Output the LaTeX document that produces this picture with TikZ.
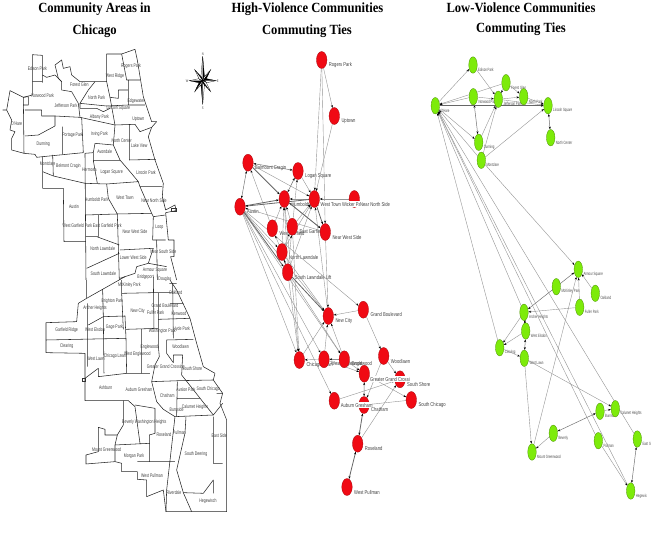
\documentclass[tikz,border=0pt]{standalone}
\usepackage{fontspec}
\setmainfont{Liberation Sans}
\newfontfamily\ttlf[FakeStretch=0.9]{Liberation Serif}
\newfontfamily\mapf[FakeStretch=0.68]{Liberation Sans}
\newfontfamily\redf[FakeStretch=0.74]{Liberation Sans}
\newfontfamily\grnf[FakeStretch=0.62]{Liberation Sans}
\usetikzlibrary{shapes.geometric,arrows.meta}
\pgfdeclarelayer{bg}
\pgfsetlayers{bg,main}
\definecolor{redv}{RGB}{240,10,20}
\definecolor{grnv}{RGB}{125,235,10}
\tikzset{
  ttl/.style={font=\ttlf\bfseries\fontsize{14}{16}\selectfont,inner sep=0pt,text=black},
  mapline/.style={draw=black!85,line width=.55pt,line join=round},
  ml/.style={font=\mapf\fontsize{5.2}{6}\selectfont,inner sep=0pt,text=black!75},
  rednode/.style={ellipse,fill=redv,draw=redv!70!black,line width=.3pt,minimum width=10.5pt,minimum height=17pt,inner sep=0pt},
  grnnode/.style={ellipse,fill=grnv,draw=grnv!60!black,line width=.3pt,minimum width=8.5pt,minimum height=16.5pt,inner sep=0pt},
  rl/.style={font=\redf\fontsize{5.6}{6}\selectfont,inner sep=0pt,anchor=west,text=black!75,xshift=2pt,yshift=-1pt},
  gl/.style={font=\grnf\fontsize{4.6}{5}\selectfont,inner sep=0pt,anchor=west,text=black!70,yshift=-1pt},
  rltop/.style={font=\redf\fontsize{5.6}{6}\selectfont,inner sep=0pt,anchor=west,text=black!75,fill=white,inner ysep=.8pt},
  rlfree/.style={font=\redf\fontsize{5.6}{6}\selectfont,inner sep=0pt,anchor=west,text=black!75},
  edge/.style={draw=black!42,line width=.4pt,-{Stealth[length=2.8pt,width=2pt,black]}},
  both/.style={draw=black!55,line width=.5pt,{Stealth[length=2.8pt,width=2pt,black]}-{Stealth[length=2.8pt,width=2pt,black]}},
  heavy/.style={draw=black!60,line width=.8pt,-{Stealth[length=2.8pt,width=2pt,black]}},
  heavyboth/.style={draw=black!60,line width=.8pt,{Stealth[length=2.8pt,width=2pt,black]}-{Stealth[length=2.8pt,width=2pt,black]}},
  plain/.style={draw=black!45,line width=.4pt},
}
\newcommand{\vx}[6]{% name x y style labelstyle text
  \node[#4] (#1) at (#2,#3) {};
  \begin{pgfonlayer}{bg}\node[#5] (#1-lab) at (#2+5,#3+4) {#6};\end{pgfonlayer}}
\begin{document}
\begin{tikzpicture}[x=1pt,y=-1pt]
\useasboundingbox (0,0) rectangle (651,535);
% titles
\node[ttl] (t1a) at (94.5,9) {Community Areas in};
\node[ttl] (t1b) at (94.7,31.5) {Chicago};
\node[ttl] (t2a) at (307.5,9) {High-Violence Communities};
\node[ttl] (t2b) at (307,31.5) {Commuting Ties};
\node[ttl] (t3a) at (521,8) {Low-Violence Communities};
\node[ttl] (t3b) at (521,29) {Commuting Ties};

% ------ map, upper part
\begin{scope}[shift={(0pt,-40pt)},x=0.3333pt,y=-0.3333pt]
\draw[mapline] (97,44)--(127,46)--(127,128) (97,44)--(97,165)--(70,172)--(30,152)--(20,210)--(35,240)--(30,270)--(45,275)--(35,295)--(35,330)--(72,340)--(105,343)--(110,352)--(128,350)--(250,338);
\draw[mapline] (8,210)--(20,210) (97,125)--(127,125) (127,105)--(140,112)--(165,105)--(185,125)--(185,150)--(215,155)--(235,190)--(240,232);
\draw[mapline] (70,172)--(72,340) (70,172)--(85,170)--(85,195)--(70,195) (75,210)--(125,210)--(125,228)--(165,228)--(240,232)--(345,255)--(405,253)--(420,275)--(455,262);
\draw[mapline] (75,288)--(115,285)--(165,258) (165,228)--(165,258) (187,260)--(187,342);
\draw[mapline] (320,42)--(365,42)--(405,28)--(412,60)--(430,170)--(440,200)--(455,245)--(470,245)--(455,262)--(445,290)--(465,360)--(490,430)--(487,470)--(497,510)--(525,495)--(528,512)--(497,518)--(505,600)--(522,600)--(522,650)--(512,650)--(530,720);
\draw[mapline] (320,42)--(320,125)--(285,125)--(240,125)--(215,105)--(210,80)--(190,85)--(185,60)--(165,75)--(175,115)--(185,125);
\draw[mapline] (365,42)--(380,120)--(420,120) (385,120)--(385,195)--(435,195) (385,150)--(355,150)--(355,175)--(330,172)--(320,125);
\draw[mapline] (285,125)--(265,150)--(240,190)--(240,205)--(290,205)--(310,215)--(330,205) (240,190)--(320,198)--(385,195) (330,172)--(345,255)--(340,315)--(360,360)--(390,395)--(415,425)--(320,432)--(325,475)--(352,522);
\draw[mapline] (388,255)--(388,360)--(468,358) (285,310)--(340,315) (285,310)--(280,338)--(255,340) (280,362)--(360,362) (280,338)--(280,362)--(292,430);
\draw[mapline] (245,232)--(250,338) (255,340)--(258,720) (128,350)--(128,445)--(190,445)--(192,605)--(258,605) (128,395)--(160,408)--(255,430)--(320,432) (158,345)--(160,408);
\draw[mapline] (258,525)--(352,522)--(455,520)--(420,440)--(487,440) (415,425)--(420,440) (455,520)--(460,530)--(458,600)--(497,600) (295,525)--(295,590)--(258,590)--(290,590)--(358,615) (352,522)--(358,720) (360,630)--(460,625) (260,685)--(358,640);
\draw[mapline] (460,625)--(445,670)--(410,680)--(405,700)--(360,715) (470,600)--(472,720) (445,670)--(500,680) (460,530)--(497,525);
\node[draw=black!80,line width=.4pt,minimum width=5pt,minimum height=3pt,inner sep=0pt] (mark1) at (520,508) {};
\foreach \x/\y/\t [count=\i] in {112/86/Edison Park,128/168/Norwood Park,238/135/Forest Glen,393/78/Rogers Park,345/108/West Ridge,290/173/North Park,408/182/Edgewater,198/198/Jefferson Park,355/203/Lincoln Square,298/230/Albany Park,415/238/Uptown,50/252/O'Hare,218/285/Portage Park,298/283/Irving Park,365/303/North Center,418/317/Lake View,130/311/Dunning,314/336/Avondale,143/372/Montclare,205/380/Belmont Cragin,268/390/Hermosa,335/396/Logan Square,438/399/Lincoln Park,290/480/Humboldt Park,375/474/West Town,462/481/Near North Side,222/500/Austin,232/557/West Garfield Park,322/556/East Garfield Park,405/574/Near West Side,478/561/Loop,308/625/North Lawndale,400/653/Lower West Side,490/636/Near South Side,310/702/South Lawndale,465/690/Armour Square,437/713/Bridgeport}
  \node[ml] (ma\i) at (\x,\y) {\t};
\end{scope}
% ------ map, lower part
\begin{scope}[shift={(0pt,-270pt)},x=0.3333pt,y=-0.3333pt]
\draw[mapline] (260,30)--(260,85)--(235,100)--(230,155)--(138,158)--(138,248)--(255,250)--(255,392)--(385,392);
\draw[mapline] (260,85)--(375,20) (365,30)--(365,70)--(460,68)--(515,68) (308,60)--(310,140) (265,165)--(310,140)--(375,138)--(378,205) (138,210)--(378,205) (262,100)--(262,290) (310,140)--(312,310) (378,205)--(380,310) (425,178)--(425,310) (378,178)--(475,175) (365,70)--(370,178) (460,20)--(462,175) (475,68)--(475,230) (518,40)--(520,205) (475,148)--(570,145) (508,40)--(530,40) (510,100)--(550,100);
\draw[mapline] (510,30)--(530,60)--(570,145)--(590,220)--(610,290)--(645,310)--(640,330)--(668,370)--(660,400)--(680,450)--(680,725)--(498,725)--(490,660)--(440,680)--(440,630)--(412,628)--(412,605)--(365,605)--(365,580)--(345,575)--(258,582)--(258,555)--(295,545)--(295,472)--(315,478)--(315,495)--(352,495)--(370,465)--(370,392);
\draw[mapline] (500,210)--(580,208) (500,210)--(500,250)--(520,278)--(520,255)--(548,255)--(545,315) (475,228)--(478,260)--(465,285)--(455,335)--(540,332)--(640,330) (450,310)--(380,310)--(295,320)--(295,295)--(255,325) (455,335)--(470,395)--(490,418)--(525,440)--(640,435);
\draw[mapline] (545,315)--(640,435)--(668,400) (385,392)--(405,410)--(420,520) (405,405)--(465,415)--(465,490)--(448,495)--(448,575) (532,385)--(600,385) (532,335)--(530,440) (525,440)--(500,660)--(498,725) (558,440)--(555,490)--(530,600)--(550,668)--(610,670)--(640,630)--(640,670) (640,440)--(640,580)--(668,580) (550,668)--(575,725) (345,525)--(450,520) (345,575)--(345,525)--(352,495) (412,575)--(525,575) (650,370)--(668,370);
\node[draw=black!80,line width=.4pt,minimum width=3pt,minimum height=3pt,inner sep=0pt] (mark2) at (250,329) {};
\foreach \x/\y/\t [count=\i] in {495/28/Douglas,388/45/McKinley Park,527/68/Oakland,337/92/Brighton Park,285/115/Archer Heights,495/108/Grand Boulevard,467/128/Fuller Park,537/130/Kenwood,413/124/New City,200/181/Garfield Ridge,285/180/West Elsdon,343/172/Gage Park,487/183/Washington Park,545/176/Hyde Park,200/229/Clearing,448/232/Englewood,542/229/Woodlawn,412/252/West Englewood,345/258/Chicago Lawn,288/266/West Lawn,497/290/Greater Grand Crossing,577/295/South Shore,317/352/Ashburn,417/360/Auburn Gresham,558/358/Avalon Park,625/356/South Chicago,502/376/Chatham,530/418/Burnside,585/412/Calumet Heights,433/456/Beverly Washington Heights,492/495/Roseland,538/489/Pullman,658/496/East Side,320/539/Mount Greenwood,402/558/Morgan Park,588/552/South Deering,456/618/West Pullman,522/667/Riverdale,624/693/Hegewisch}
  \node[ml] (mb\i) at (\x,\y) {\t};
\end{scope}

% ------ compass
\begin{scope}[shift={(202.7pt,-80.7pt)}]
\coordinate (cc) at (0,0);
\draw[black,line width=.25pt,fill=white] (0,-24.5)--(1.7,-5)--(0,0)--(-1.7,-5)--cycle (0,24)--(1.7,5)--(0,0)--(-1.7,5)--cycle (-13.5,0)--(-4,-2)--(0,0)--(-4,2)--cycle (13.5,0)--(4,-2)--(0,0)--(4,2)--cycle (-8,-11)--(-.7,-3)--(0,0)--(-3,-.7)--cycle (8,-11)--(.7,-3)--(0,0)--(3,-.7)--cycle (-8,11)--(-.7,3)--(0,0)--(-3,.7)--cycle (8,11)--(.7,3)--(0,0)--(3,.7)--cycle;
\fill[black] (0,-24.5)--(1.7,-5)--(0,0)--cycle (0,24)--(-1.7,5)--(0,0)--cycle (-13.5,0)--(-4,2)--(0,0)--cycle (13.5,0)--(4,-2)--(0,0)--cycle;
\fill[black] (-8,-11)--(-.7,-3)--(0,0)--cycle (8,-11)--(3,-.7)--(0,0)--cycle (-8,11)--(-3,.7)--(0,0)--cycle (8,11)--(.7,3)--(0,0)--cycle;
\node[ml,font=\mapf\fontsize{3.8}{4}\selectfont] (cn) at (0,-27) {N};
\node[ml,font=\mapf\fontsize{3.8}{4}\selectfont] (cs) at (0,27) {S};
\node[ml,font=\mapf\fontsize{3.8}{4}\selectfont] (cw) at (-15.5,0) {W};
\node[ml,font=\mapf\fontsize{3.8}{4}\selectfont] (ce) at (15,0) {E};
\end{scope}

% ------ high-violence network
\vx{rp}{321.7}{60}{rednode}{rl}{Rogers Park}
\vx{up}{334.3}{116}{rednode}{rl}{Uptown}
\vx{bc}{248}{162.7}{rednode}{rl}{Balmoont Cragin}
\vx{ls}{298}{171}{rednode}{rl}{Logan Square}
\vx{hp}{284.3}{199}{rednode}{rl}{Humboldt Park}
\vx{wt}{314.3}{199}{rednode}{rl}{}
\vx{nn}{354.3}{199}{rednode}{rl}{}
\vx{au}{240}{206.7}{rednode}{rl}{Austin}
\vx{wg}{272.3}{228.3}{rednode}{rl}{West Garfield}
\vx{eg}{292.3}{226.7}{rednode}{rl}{East Garfield}
\vx{nw}{325.3}{232}{rednode}{rl}{Near West Side}
\vx{nl}{282}{252}{rednode}{rl}{North Lawndale}
\vx{sl}{287.7}{272.3}{rednode}{rl}{South Lawndale Lift}
\vx{nc}{328.3}{316}{rednode}{rl}{New City}
\vx{gb}{363.3}{309.7}{rednode}{rl}{Grand Boulevard}
\vx{cl}{299.3}{360}{rednode}{rl}{Chicago Lawn}
\vx{we}{324}{359.3}{rednode}{rl}{West Englewood}
\vx{en}{344.3}{359.3}{rednode}{rl}{Englewood}
\vx{gg}{364.3}{373.7}{rednode}{rl}{}
\vx{wl}{383.7}{356}{rednode}{rl}{Woodlawn}
\vx{ss}{400}{379.3}{rednode}{rl}{}
\vx{ag}{334.3}{400.7}{rednode}{rl}{}
\vx{ch}{364}{405}{rednode}{rl}{}
\vx{sc}{411.3}{400}{rednode}{rl}{South Chicago}
\vx{rl}{357.7}{443.7}{rednode}{rl}{Roseland}
\vx{wp}{347}{487}{rednode}{rl}{West Pullman}
% labels that print across the nodes, on white
\node[rltop] (wt-top) at (320.5,204) {West Town Wicker Park};
\node[rltop] (nn-top) at (360,204) {Near North Side};
\node[rltop] (gg-top) at (370,379) {Greater Grand Crossi};
\node[rlfree] (ss-top) at (407,384) {South Shore};
\node[rltop] (ag-top) at (340.7,405) {Auburn Gresham};
\node[rlfree] (ch-top) at (371,409) {Chatham};
\begin{pgfonlayer}{bg}
\foreach \a/\b in {rp/wt,rp/nw,up/wt,rp/up,bc/wt,wg/bc,ls/wt,eg/ls,wt/hp,wg/hp,eg/hp,eg/wt,nl/hp,nl/eg,nl/wt,sl/eg,sl/wt,sl/hp,nw/au,nw/hp,nn/wt,au/nl,au/nc,au/cl,au/we,au/en,au/gb,au/ag,nc/wt,sl/cl,hp/cl,eg/cl,nl/nc,sl/en,gb/nc,cl/nc,we/nc,en/nc,we/cl,en/we,en/gg,we/gg,gg/sc,wl/ss,wl/ch,ag/ss,sc/ch,rl/ss,nl/wg,gb/wl,nw/nc}
  \draw[edge] (\a) -- (\b);
\foreach \a/\b in {bc/ls,bc/au,ls/hp,gg/ch}
  \draw[both] (\a) -- (\b);
\foreach \a/\b in {bc/hp,au/hp,wt/au,wt/nw,au/sl,sl/nl,sl/nc,hp/nw}
  \draw[heavy] (\a) -- (\b);
\foreach \a/\b in {rl/ch,wp/rl}
  \draw[heavyboth] (\a) -- (\b);
\end{pgfonlayer}

% ------ low-violence network
\vx{oh}{435.3}{105.7}{grnnode}{gl}{O'Hare}
\vx{ep}{473}{65}{grnnode}{gl}{Edison Park}
\vx{np}{473.3}{96.7}{grnnode}{gl}{Norwood Park}
\vx{fg}{506}{82.7}{grnnode}{gl}{Forest Glen}
\vx{jp}{498.3}{99.3}{grnnode}{gl}{Jefferson Park}
\vx{nk}{523.7}{96.7}{grnnode}{gl}{North Park}
\vx{lq}{548}{105.7}{grnnode}{gl}{Lincoln Square}
\vx{nt}{550.7}{137.7}{grnnode}{gl}{North Center}
\vx{du}{478.7}{142.3}{grnnode}{gl}{Dunning}
\vx{mo}{481.3}{160.3}{grnnode}{gl}{Montclare}
\vx{as}{578.3}{269.3}{grnnode}{gl}{Armour Square}
\vx{mk}{556.3}{286.7}{grnnode}{gl}{McKinley Park}
\vx{oa}{595.3}{293.3}{grnnode}{gl}{Oakland}
\vx{fp}{579.7}{307.3}{grnnode}{gl}{Fuller Park}
\vx{ar}{524}{312.3}{grnnode}{gl}{Archer Heights}
\vx{el}{525.7}{331}{grnnode}{gl}{West Elsdon}
\vx{cg}{499.7}{347.7}{grnnode}{gl}{Clearing}
\vx{wn}{524.3}{358.3}{grnnode}{gl}{West Lawn}
\vx{bu}{600}{411.3}{grnnode}{gl}{Burnside}
\vx{cu}{615.3}{408.7}{grnnode}{gl}{Calumet Heights}
\vx{be}{553.3}{433.3}{grnnode}{gl}{Beverly}
\vx{mg}{532}{452}{grnnode}{gl}{Mount Greenwood}
\vx{pu}{598.3}{440.7}{grnnode}{gl}{Pullman}
\vx{es}{637.3}{439}{grnnode}{gl}{East S}
\vx{hw}{630.7}{491}{grnnode}{gl}{Hegewis}
\begin{pgfonlayer}{bg}
\foreach \a/\b in {oh/ep,ep/jp,np/oh,fg/oh,fg/jp,np/jp,jp/nk,fg/nk,nk/lq,jp/lq,oh/du,du/jp,mo/jp,mo/lq,mo/oh,cg/oh,ar/oh,pu/oh,hw/oh,es/oh,mo/as,oa/as,fp/as,fp/ar,ar/cg,el/cg,cg/wn,mg/as,wn/mg,wn/cu,bu/cu,be/mg,pu/hw}
  \draw[edge] (\a) -- (\b);
\foreach \a/\b in {np/du,lq/nt,ar/as,ar/el,el/wn,bu/be,es/hw}
  \draw[both] (\a) -- (\b);
\draw[heavy] (oh) -- (lq);
\end{pgfonlayer}
\end{tikzpicture}
\end{document}
